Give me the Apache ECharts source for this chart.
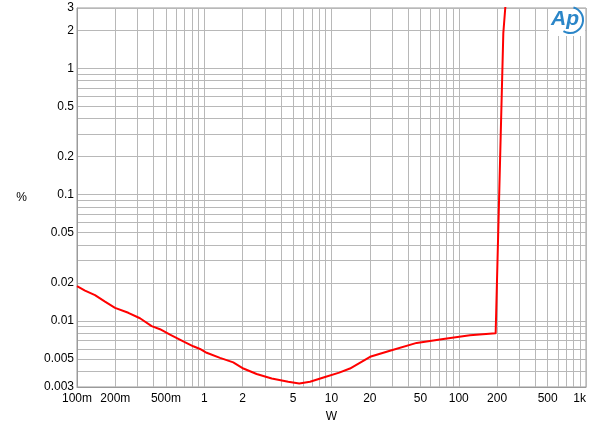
<!DOCTYPE html>
<html>
<head>
<meta charset="utf-8">
<script src="https://cdn.jsdelivr.net/npm/echarts@6/dist/echarts.min.js"></script>
<style>
  html, body { margin: 0; padding: 0; background: #fff; }
  #chart { width: 600px; height: 431px; }
</style>
</head>
<body>
<div id="chart"></div>
<script>
// Data (power in W, THD+N in %)
const power = [0.1, 0.1156, 0.1385, 0.166, 0.199, 0.253, 0.3126, 0.386, 0.449, 0.538, 0.684, 0.82, 0.926, 1.045, 1.33, 1.69, 2.03, 2.58, 3.39, 4.57, 5.58, 6.78, 8.9, 11.5, 13.96, 20.1, 28.8, 46.7, 75.6, 122.5, 195, 224, 232, 240];
const thd = [0.0189, 0.0174, 0.0160, 0.0142, 0.0127, 0.0116, 0.0105, 0.0091, 0.0086, 0.0078, 0.0069, 0.0063, 0.0060, 0.0056, 0.0051, 0.0047, 0.0042, 0.0038, 0.0035, 0.0033, 0.0032, 0.0033, 0.0036, 0.0039, 0.0042, 0.0052, 0.0058, 0.0067, 0.0072, 0.0077, 0.0080, 1.9, 3.0, 4.0];

// Tick labels
const xLabels = [0.1, 0.2, 0.5, 1, 2, 5, 10, 20, 50, 100, 200, 500, 1000];
const yLabels = [0.003, 0.005, 0.01, 0.02, 0.05, 0.1, 0.2, 0.5, 1, 2, 3];
// Grid line positions (1..9 within each decade)
const xGrid = [0.1,0.2,0.3,0.4,0.5,0.6,0.7,0.8,0.9,1,2,3,4,5,6,7,8,9,10,20,30,40,50,60,70,80,90,100,200,300,400,500,600,700,800,900,1000];
const yGrid = [0.003,0.004,0.005,0.006,0.007,0.008,0.009,0.01,0.02,0.03,0.04,0.05,0.06,0.07,0.08,0.09,0.1,0.2,0.3,0.4,0.5,0.6,0.7,0.8,0.9,1,2,3];

const FONT = '"Liberation Sans", Arial, sans-serif';

function fmtX(v) {
  v = parseFloat(Number(v).toPrecision(6));
  if (v < 1) return Math.round(v * 1000) + 'm';
  if (v >= 1000) return (v / 1000) + 'k';
  return String(v);
}
function fmtY(v) {
  return String(parseFloat(Number(v).toPrecision(6)));
}

const chart = echarts.init(document.getElementById('chart'), null, { renderer: 'canvas' });
chart.setOption({
  animation: false,
  backgroundColor: '#fff',
  grid: {
    left: 77, top: 8, width: 509, height: 379,
    show: true, borderColor: '#9a9a9a', borderWidth: 1, backgroundColor: 'transparent'
  },
  xAxis: {
    type: 'log', logBase: 10, min: 0.1, max: 1000,
    name: 'W', nameLocation: 'middle', nameGap: 24,
    nameTextStyle: { fontFamily: FONT, fontSize: 12, color: '#000' },
    axisLine: { show: true, lineStyle: { color: '#9a9a9a', width: 1 } },
    axisTick: { show: false, customValues: xGrid },
    axisLabel: { customValues: xLabels, formatter: fmtX, fontFamily: FONT, fontSize: 12, color: '#000', margin: 6, showMinLabel: true, showMaxLabel: true, alignMaxLabel: 'right' },
    splitLine: { show: true, lineStyle: { color: '#b8b8b8', width: 1 } },
    minorSplitLine: { show: false }
  },
  yAxis: {
    type: 'log', logBase: 10, min: 0.003, max: 3,
    name: '%', nameLocation: 'middle', nameGap: 50, nameRotate: 0,
    nameTextStyle: { fontFamily: FONT, fontSize: 12, color: '#000' },
    axisLine: { show: true, lineStyle: { color: '#9a9a9a', width: 1 } },
    axisTick: { show: false, customValues: yGrid },
    axisLabel: { customValues: yLabels, formatter: fmtY, fontFamily: FONT, fontSize: 12, color: '#000', margin: 3, showMinLabel: true, showMaxLabel: true },
    splitLine: { show: true, lineStyle: { color: '#b8b8b8', width: 1 } }
  },
  series: [{
    type: 'line',
    data: power.map((p, i) => [p, thd[i]]),
    showSymbol: false,
    symbol: 'none',
    smooth: false,
    clip: true,
    lineStyle: { color: '#ff0000', width: 2 },
    itemStyle: { color: '#ff0000' }
  }],
  graphic: [
    { type: 'rect', left: 549, top: 9, shape: { width: 36, height: 27 }, style: { fill: '#fff' }, z: 100 },
    { type: 'text', left: 551, top: 9, style: { text: 'Ap', fill: '#2b86c8', font: 'italic bold 21px ' + FONT }, z: 101 },
    { type: 'arc', shape: { cx: 570, cy: 20, r: 13, startAngle: -1.3, endAngle: 2.1 }, style: { stroke: '#2b86c8', lineWidth: 2, fill: null }, z: 101 }
  ]
});
</script>
</body>
</html>
